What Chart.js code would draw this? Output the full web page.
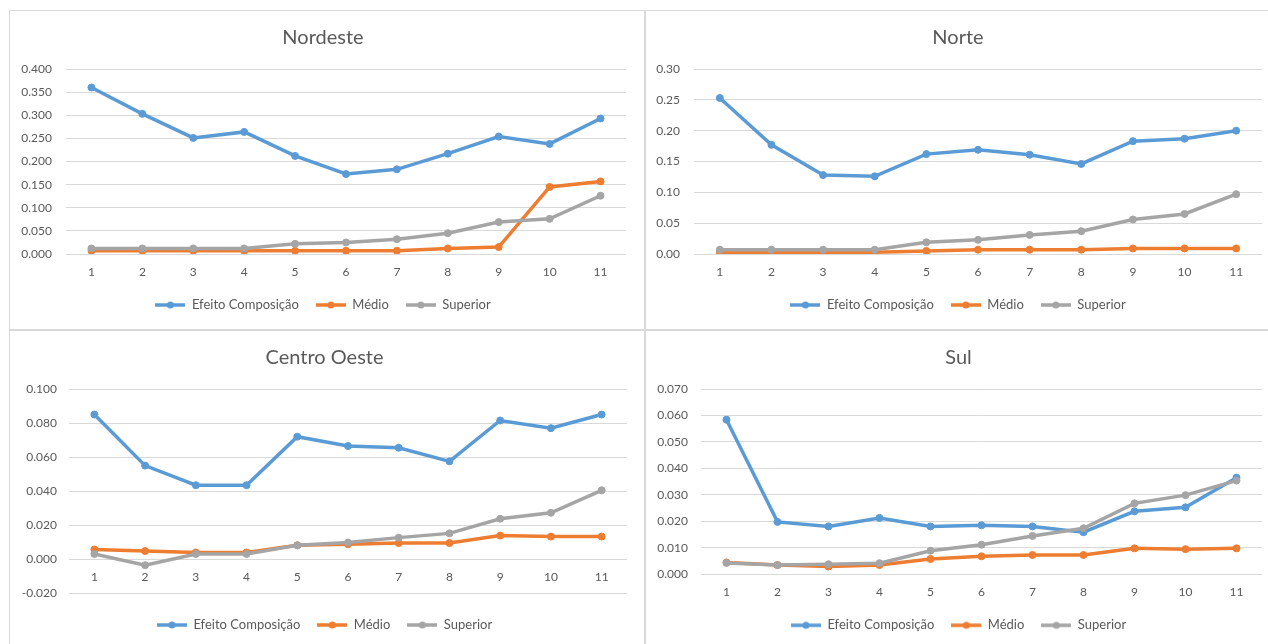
<!DOCTYPE html>
<html>
<head>
<meta charset="utf-8" />
<title>Efeito Composição por região</title>
<script src="https://cdn.jsdelivr.net/npm/chart.js@4.4.1/dist/chart.umd.min.js"></script>
<style>
    body { margin: 0; background: #fff; width: 1268px; height: 644px; overflow: hidden; position: relative; }
    .painel { position: absolute; }
    .linha { position: absolute; background: #d9d9d9; }
</style>
</head>
<body>
    <!-- molduras dos quatro graficos -->
    <div class="linha" style="left:9px;top:10px;width:1259px;height:1px"></div>
    <div class="linha" style="left:9px;top:10px;width:1px;height:634px"></div>
    <div class="linha" style="left:644px;top:10px;width:2px;height:634px"></div>
    <div class="linha" style="left:9px;top:329px;width:1259px;height:2px"></div>

    <canvas id="nordeste" class="painel" width="634" height="319" style="left:10px;top:10px"></canvas>
    <canvas id="norte" class="painel" width="623" height="319" style="left:645px;top:10px"></canvas>
    <canvas id="centroOeste" class="painel" width="634" height="314" style="left:10px;top:330px"></canvas>
    <canvas id="sul" class="painel" width="623" height="314" style="left:645px;top:330px"></canvas>

<script>
// categorias do eixo x
var categorias = ['1', '2', '3', '4', '5', '6', '7', '8', '9', '10', '11'];
var series = ['Efeito Composição', 'Médio', 'Superior'];

// Nordeste
var nordesteEfeito = [0.360, 0.303, 0.251, 0.264, 0.212, 0.173, 0.183, 0.217, 0.254, 0.238, 0.293];
var nordesteMedio = [0.007, 0.007, 0.007, 0.007, 0.007, 0.007, 0.007, 0.012, 0.015, 0.145, 0.157];
var nordesteSuperior = [0.012, 0.012, 0.012, 0.012, 0.022, 0.025, 0.032, 0.045, 0.069, 0.076, 0.126];

// Norte
var norteEfeito = [0.253, 0.177, 0.128, 0.126, 0.162, 0.169, 0.161, 0.146, 0.183, 0.187, 0.200];
var norteMedio = [0.003, 0.003, 0.003, 0.003, 0.005, 0.007, 0.007, 0.007, 0.009, 0.009, 0.009];
var norteSuperior = [0.007, 0.007, 0.007, 0.007, 0.019, 0.023, 0.031, 0.037, 0.056, 0.065, 0.097];

// Centro Oeste
var coEfeito = [0.085, 0.055, 0.0435, 0.0435, 0.072, 0.0665, 0.0655, 0.0575, 0.0815, 0.077, 0.085];
var coMedio = [0.0057, 0.0048, 0.0040, 0.0040, 0.0082, 0.0088, 0.0095, 0.0095, 0.0139, 0.0133, 0.0133];
var coSuperior = [0.0031, -0.0035, 0.0031, 0.0031, 0.0082, 0.0098, 0.0127, 0.0152, 0.0238, 0.0273, 0.0405];

// Sul
var sulEfeito = [0.0584, 0.0198, 0.0181, 0.0213, 0.0181, 0.0185, 0.0181, 0.0159, 0.0238, 0.0253, 0.0365];
var sulMedio = [0.0045, 0.0035, 0.0029, 0.0035, 0.0058, 0.0068, 0.0073, 0.0073, 0.0098, 0.0095, 0.0098];
var sulSuperior = [0.0043, 0.0035, 0.0038, 0.0042, 0.0089, 0.0112, 0.0145, 0.0174, 0.0268, 0.0299, 0.0354];

var cores = ['#5b9bd5', '#ed7d31', '#a5a5a5'];
var corTexto = '#595959';
var fonte = "Lato, 'Open Sans', sans-serif";

// icone da legenda: linha com marcador no meio
function iconeLegenda(cor) {
    var c = document.createElement('canvas');
    c.width = 30;
    c.height = 10;
    var ctx = c.getContext('2d');
    ctx.strokeStyle = cor;
    ctx.lineWidth = 3.5;
    ctx.beginPath();
    ctx.moveTo(0, 5);
    ctx.lineTo(30, 5);
    ctx.stroke();
    ctx.fillStyle = cor;
    ctx.beginPath();
    ctx.arc(15, 5, 3.5, 0, Math.PI * 2);
    ctx.fill();
    return c;
}
var icones = cores.map(iconeLegenda);

// o eixo x cruza sempre em zero, entao os rotulos ficam logo abaixo da linha do zero;
// g.espaco e a folga (titulo vazio da legenda) entre a area do grafico e a legenda
function grafico(id, titulo, valores, yMin, yMax, passo, casas, g) {
    var datasets = valores.map(function (v, i) {
        return {
            label: series[i],
            data: v,
            borderColor: cores[i],
            backgroundColor: cores[i],
            borderWidth: 3.5,
            pointRadius: 3.5,
            pointBorderWidth: 1,
            tension: 0,
            order: 3 - i   // Superior fica por cima
        };
    });

    new Chart(document.getElementById(id), {
        type: 'line',
        data: { labels: categorias, datasets: datasets },
        options: {
            responsive: false,
            animation: false,
            events: [],
            layout: { padding: { left: g.esq, right: g.dir, top: 10, bottom: g.baixo } },
            scales: {
                x: {
                    position: { y: 0 },
                    offset: true,
                    grid: { display: false, drawTicks: false },
                    border: { display: false },
                    ticks: { color: corTexto, font: { family: fonte, size: 12 }, padding: 11, autoSkip: false, maxRotation: 0 }
                },
                y: {
                    min: yMin,
                    max: yMax,
                    grid: { color: '#d9d9d9', lineWidth: 1, drawTicks: false },
                    border: { display: false },
                    ticks: {
                        stepSize: passo,
                        color: corTexto,
                        font: { family: fonte, size: 12 },
                        padding: g.pad,
                        callback: function (v) { return v.toFixed(casas); }
                    },
                    afterFit: function (s) { s.width = g.larg; }
                }
            },
            plugins: {
                tooltip: { enabled: false },
                title: {
                    display: true,
                    text: titulo,
                    color: corTexto,
                    font: { family: fonte, size: 20, weight: 'normal' },
                    padding: { top: 6, bottom: 19 }
                },
                legend: {
                    position: 'bottom',
                    title: { display: true, text: '', font: { size: g.espaco, lineHeight: 1 }, padding: 0 },
                    labels: {
                        usePointStyle: true,
                        pointStyleWidth: 30,
                        padding: 17,
                        color: corTexto,
                        font: { family: fonte, size: 13 },
                        generateLabels: function (chart) {
                            var itens = Chart.defaults.plugins.legend.labels.generateLabels(chart);
                            itens.forEach(function (it) { it.pointStyle = icones[it.datasetIndex]; });
                            return itens.sort(function (a, b) { return a.datasetIndex - b.datasetIndex; });
                        }
                    }
                }
            }
        }
    });
}

grafico('nordeste', 'Nordeste', [nordesteEfeito, nordesteMedio, nordesteSuperior], 0, 0.4, 0.05, 3,
    { esq: 10, dir: 18, larg: 46, pad: 14, baixo: 7.5, espaco: 27.5 });
grafico('norte', 'Norte', [norteEfeito, norteMedio, norteSuperior], 0, 0.3, 0.05, 2,
    { esq: 9, dir: 6, larg: 40, pad: 14, baixo: 7.5, espaco: 27.5 });
grafico('centroOeste', 'Centro Oeste', [coEfeito, coMedio, coSuperior], -0.02, 0.1, 0.02, 3,
    { esq: 12, dir: 17, larg: 47, pad: 12, baixo: 2.5, espaco: 8.2 });
grafico('sul', 'Sul', [sulEfeito, sulMedio, sulSuperior], 0, 0.07, 0.01, 3,
    { esq: 10, dir: 6, larg: 46, pad: 13, baixo: 2.2, espaco: 27.5 });
</script>
</body>
</html>
